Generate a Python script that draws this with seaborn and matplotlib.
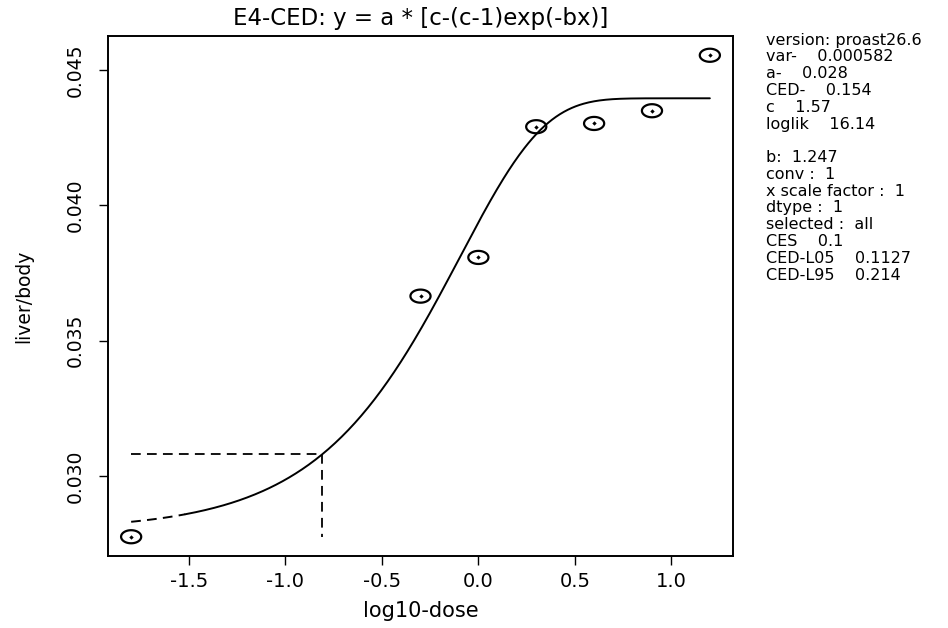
import numpy as np
import pandas as pd
import matplotlib
matplotlib.use("Agg")
import matplotlib.pyplot as plt
from matplotlib.path import Path
import seaborn as sns

# ---- data ----
log_dose = [-1.8, -0.3, 0.0, 0.3, 0.6, 0.9, 1.2]
liver_body = [0.02776, 0.03665, 0.03808, 0.04291, 0.04303, 0.04350, 0.04555]

# fitted model parameters (shown in the panel)
a_par = 0.028
b_par = 1.247
c_par = 1.57
ced = 0.154
ces = 0.1
dashed_until = -1.52          # curve drawn dashed below this log10-dose

xticks = [-1.5, -1.0, -0.5, 0.0, 0.5, 1.0]
xtick_labels = ["-1.5", "-1.0", "-0.5", "0.0", "0.5", "1.0"]
yticks = [0.030, 0.035, 0.040, 0.045]
ytick_labels = ["0.030", "0.035", "0.040", "0.045"]

title = "E4-CED: y = a * [c-(c-1)exp(-bx)]"
xlabel = "log10-dose"
ylabel = "liver/body"

info_lines = [
    "version: proast26.6",
    "var-    0.000582",
    "a-    0.028",
    "CED-    0.154",
    "c    1.57",
    "loglik    16.14",
    "",
    "b:  1.247",
    "conv :  1",
    "x scale factor :  1",
    "dtype :  1",
    "selected :  all",
    "CES    0.1",
    "CED-L05    0.1127",
    "CED-L95    0.214",
]

# ---- style ----
sns.set_style("white")
plt.rcParams["font.family"] = ["DejaVu Sans"]
plt.rcParams["lines.scale_dashes"] = False
plt.rcParams["text.color"] = "black"
plt.rcParams["axes.labelcolor"] = "black"
plt.rcParams["xtick.color"] = "black"
plt.rcParams["ytick.color"] = "black"

W, H = 948, 628
fig = plt.figure(figsize=(W / 100, H / 100), dpi=100)
L, R, T, B = 108, 733, 36, 556
ax = fig.add_axes([L / W, 1 - B / H, (R - L) / W, (B - T) / H])

def model(logx):
    d = 10 ** np.asarray(logx)
    return a_par * (c_par - (c_par - 1) * np.exp(-b_par * d))

grid_dash = np.linspace(log_dose[0], dashed_until, 40)
grid_solid = np.linspace(dashed_until, log_dose[-1], 400)
curve_dash = pd.DataFrame({"x": grid_dash, "y": model(grid_dash)})
curve_solid = pd.DataFrame({"x": grid_solid, "y": model(grid_solid)})

dash_style = (0, (7, 4.5))
sns.lineplot(data=curve_solid, x="x", y="y", ax=ax, color="black",
             linewidth=1.4, sort=False, estimator=None)
sns.lineplot(data=curve_dash, x="x", y="y", ax=ax, color="black",
             linewidth=1.4, sort=False, estimator=None, linestyle=dash_style)

# CED lines
log_ced = np.log10(ced)
y_ced = a_par * (1 + ces)
ref_h = pd.DataFrame({"x": [log_dose[0], log_ced], "y": [y_ced, y_ced]})
ref_v = pd.DataFrame({"x": [log_ced, log_ced], "y": [y_ced, min(liver_body)]})
for d in (ref_h, ref_v):
    sns.lineplot(data=d, x="x", y="y", ax=ax, color="black", linewidth=1.3,
                 sort=False, estimator=None, linestyle=dash_style)

# points: ellipse with centre dot
th = np.linspace(0, 2 * np.pi, 60)
ell = Path(np.column_stack([np.cos(th), 0.65 * np.sin(th)]), closed=True)
pts = pd.DataFrame({"x": log_dose, "y": liver_body})
sns.scatterplot(data=pts, x="x", y="y", ax=ax, marker=ell, s=14.5 ** 2,
                facecolors="none", edgecolors="black", linewidth=1.6, zorder=5)
sns.scatterplot(data=pts, x="x", y="y", ax=ax, marker="D", s=5,
                color="black", linewidth=0, zorder=6)

# limits as R does (4% extension)
xr = log_dose[-1] - log_dose[0]
ax.set_xlim(log_dose[0] - 0.04 * xr, log_dose[-1] + 0.04 * xr)
yr = max(liver_body) - min(liver_body)
ax.set_ylim(min(liver_body) - 0.04 * yr, max(liver_body) + 0.04 * yr)

ax.set_xticks(xticks)
ax.set_xticklabels(xtick_labels)
ax.set_yticks(yticks)
ax.set_yticklabels(ytick_labels, rotation=90, va="center")
ax.tick_params(axis="both", direction="out", length=6.5, width=1.0,
               color="black", labelcolor="black", labelsize=14,
               bottom=True, left=True)
ax.tick_params(axis="x", pad=5)
ax.tick_params(axis="y", pad=10, labelsize=13.5)
for sp in ax.spines.values():
    sp.set_visible(True)
    sp.set_color("black")
    sp.set_linewidth(1.4)

ax.set_xlabel(xlabel, fontsize=15, va="center", color="black")
ax.xaxis.set_label_coords(0.5, (B - 611) / (B - T))
ax.set_ylabel(ylabel, fontsize=13.5, va="center", color="black")
ax.yaxis.set_label_coords((24 - L) / (R - L), 0.5)
ax.set_title(title, fontsize=16.5, va="center", color="black", pad=0,
             y=1 + (T - 18) / (B - T))

y0, dy = 40, 16.8
for i, line in enumerate(info_lines):
    if line:
        fig.text(766 / W, 1 - (y0 + i * dy) / H, line, fontsize=11.5,
                 va="center", ha="left", color="black")

fig.savefig("out.png", dpi=100, facecolor="white")
